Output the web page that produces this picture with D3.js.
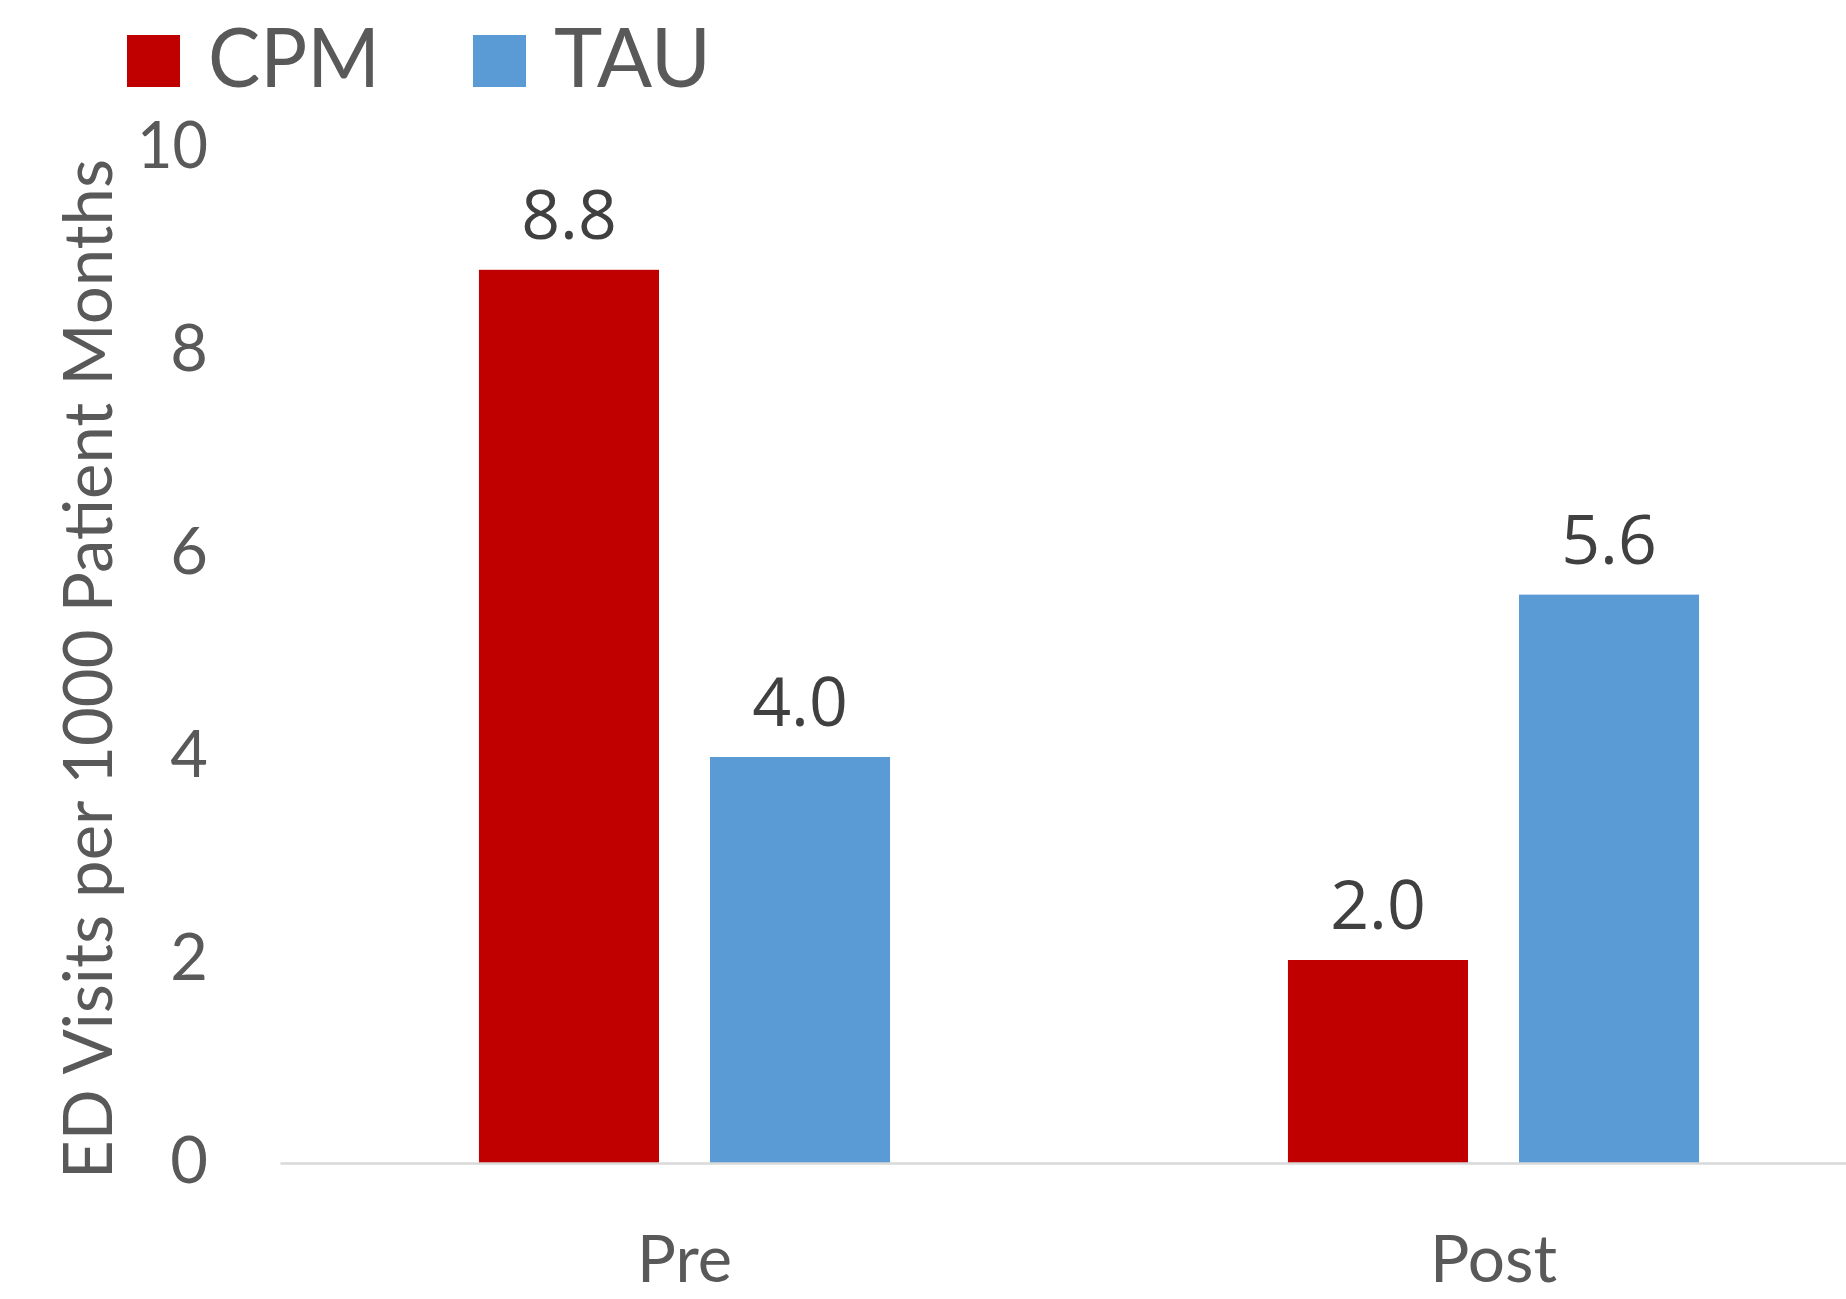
<!DOCTYPE html>
<html>
<head>
<meta charset="utf-8">
<script src="https://cdn.jsdelivr.net/npm/d3@7"></script>
<style>
  html, body { margin: 0; padding: 0; background: #ffffff; }
  svg { display: block; }
</style>
</head>
<body>
<svg id="chart" width="1846" height="1299"></svg>
<script>
// ---- data ----
const categories = ["Pre", "Post"];
const seriesNames = ["CPM", "TAU"];
const cpmValues = [8.8, 2.0];
const tauValues = [4.0, 5.6];
const yTicks = [0, 2, 4, 6, 8, 10];
const yTitle = "ED Visits per 1000 Patient Months";

const colors = { CPM: "#C00000", TAU: "#5B9BD5" };
const seriesValues = { CPM: cpmValues, TAU: tauValues };

const svg = d3.select("#chart");
const W = 1846, H = 1299;
const plotLeft = 280, plotRight = 1898, baseY = 1163, topY = 148;

const axisFont = "Lato, 'Open Sans', sans-serif";
const labelFont = "'Open Sans', 'Noto Sans', sans-serif";
const axisColor = "#595959";

const x0 = d3.scaleBand().domain(categories).range([plotLeft, plotRight]).paddingInner(0).paddingOuter(0);
const x1 = d3.scaleBand().domain(seriesNames).range([0, x0.bandwidth()]).paddingInner(0.2208).paddingOuter(0.861);
const y = d3.scaleLinear().domain([0, 10]).range([baseY, topY]);

// bars
const rows = categories.map((c, i) => ({ cat: c, vals: seriesNames.map(s => ({ s, v: seriesValues[s][i] })) }));
const groups = svg.append("g").selectAll("g").data(rows).join("g")
  .attr("transform", d => `translate(${x0(d.cat)},0)`);
groups.selectAll("rect").data(d => d.vals).join("rect")
  .attr("x", d => x1(d.s))
  .attr("width", x1.bandwidth())
  .attr("y", d => y(d.v))
  .attr("height", d => y(0) - y(d.v))
  .attr("fill", d => colors[d.s]);
groups.selectAll("text").data(d => d.vals).join("text")
  .attr("x", d => x1(d.s) + x1.bandwidth() / 2)
  .attr("y", d => y(d.v) - 31)
  .attr("text-anchor", "middle")
  .attr("font-family", labelFont)
  .attr("font-size", 68)
  .attr("fill", "#404040")
  .text(d => d.v.toFixed(1));

// x axis
const xAxis = svg.append("g").attr("transform", `translate(0,${baseY})`)
  .call(d3.axisBottom(x0).tickSize(0));
xAxis.select(".domain").attr("stroke", "#D9D9D9").attr("stroke-width", 2.5);
xAxis.selectAll("text")
  .attr("y", 119).attr("dy", 0)
  .attr("font-family", axisFont).attr("font-size", 66)
  .attr("fill", axisColor)
  .attr("textLength", d => d === "Pre" ? 95 : 127)
  .attr("lengthAdjust", "spacingAndGlyphs");

// y axis
const yAxis = svg.append("g").attr("transform", `translate(208,0)`)
  .call(d3.axisLeft(y).tickValues(yTicks).tickSize(0).tickPadding(0).tickFormat(d3.format("d")));
yAxis.select(".domain").remove();
yAxis.selectAll("text")
  .attr("x", 0).attr("dy", 19)
  .attr("font-family", axisFont).attr("font-size", 65)
  .attr("fill", axisColor)
  .attr("textLength", d => d >= 10 ? 71 : null)
  .attr("lengthAdjust", "spacingAndGlyphs");

// y title
svg.append("text")
  .attr("transform", "translate(112,669) rotate(-90)")
  .attr("text-anchor", "middle")
  .attr("font-family", axisFont).attr("font-size", 67)
  .attr("fill", axisColor)
  .attr("textLength", 1020)
  .attr("lengthAdjust", "spacingAndGlyphs")
  .text(yTitle);

// legend
const legendX = { CPM: 127, TAU: 473 };
const legendW = { CPM: 172, TAU: 157 };
const leg = svg.append("g").selectAll("g").data(seriesNames).join("g")
  .attr("transform", d => `translate(${legendX[d]},0)`);
leg.append("rect").attr("x", 0).attr("y", 35).attr("width", 53).attr("height", 52)
  .attr("fill", d => colors[d]);
leg.append("text").attr("x", 81).attr("y", 87)
  .attr("font-family", axisFont).attr("font-size", 81)
  .attr("fill", axisColor)
  .attr("textLength", d => legendW[d])
  .attr("lengthAdjust", "spacingAndGlyphs")
  .text(d => d);
</script>
</body>
</html>
